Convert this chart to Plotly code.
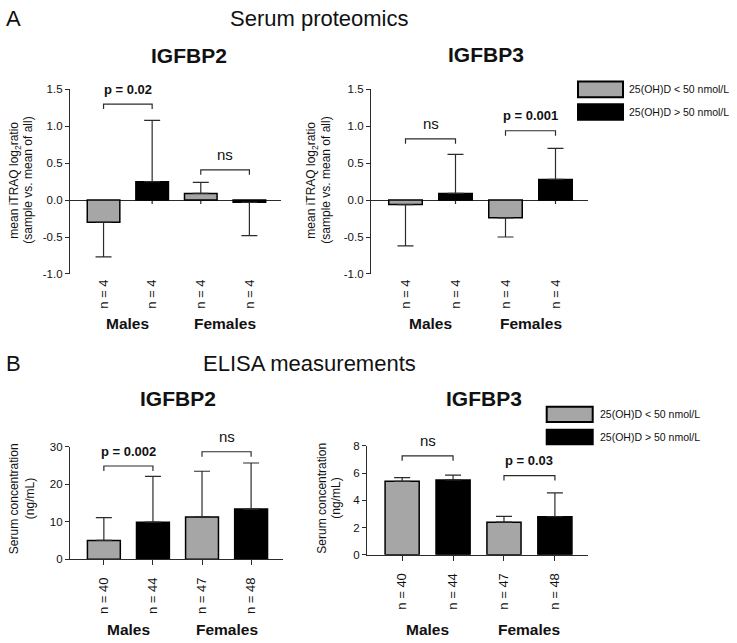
import plotly.graph_objects as go

W, H = 737, 643
FONT = "Liberation Sans, Arial, sans-serif"

# ---------------- data ----------------
groups = ["Males", "Females"]
legend_labels = ["25(OH)D < 50 nmol/L", "25(OH)D > 50 nmol/L"]
n_prot = ["n = 4", "n = 4", "n = 4", "n = 4"]
n_elisa = ["n = 40", "n = 44", "n = 47", "n = 48"]

prot_igfbp2_mean = [-0.30, 0.25, 0.09, -0.03]
prot_igfbp2_err = [0.47, 0.83, 0.15, 0.45]
prot_igfbp3_mean = [-0.06, 0.09, -0.24, 0.28]
prot_igfbp3_err = [0.56, 0.53, 0.26, 0.42]
elisa_igfbp2_mean = [5.0, 9.9, 11.3, 13.4]
elisa_igfbp2_err = [6.1, 12.2, 12.2, 12.3]
elisa_igfbp3_mean = [5.4, 5.5, 2.4, 2.8]
elisa_igfbp3_err = [0.27, 0.35, 0.43, 1.75]

# significance: (left bar, right bar, bracket level, label)
sig_prot_igfbp2 = [(0, 1, 1.30, "p = 0.02"), (2, 3, 0.41, "ns")]
sig_prot_igfbp3 = [(0, 1, 0.83, "ns"), (2, 3, 0.94, "p = 0.001")]
sig_elisa_igfbp2 = [(0, 1, 24.9, "p = 0.002"), (2, 3, 28.7, "ns")]
sig_elisa_igfbp3 = [(0, 1, 7.27, "ns"), (2, 3, 5.82, "p = 0.03")]

GRAY = "#a6a6a6"
BLACK = "#000000"
LINE = "#2b2b2b"


def px_x(x):
    return x / W


def px_y(y):
    return 1 - y / H


panels = [
    dict(k="", title="IGFBP2", tpos=(189, 50), xd=(70, 281), yd=(85, 273), yr=(-1.0, 1.5),
         ticks=[-1.0, -0.5, 0.0, 0.5, 1.0, 1.5], fmt="{:.1f}", mean=prot_igfbp2_mean,
         err=prot_igfbp2_err, ncat=n_prot, sig=sig_prot_igfbp2, top=True,
         ytitle=["mean iTRAQ log<sub>2</sub>ratio", "(sample vs. mean of all)"],
         ytx=(15, 28), yty=178, grp_y=324),
    dict(k="2", title="IGFBP3", tpos=(486, 49), xd=(371, 588), yd=(85, 273), yr=(-1.0, 1.5),
         ticks=[-1.0, -0.5, 0.0, 0.5, 1.0, 1.5], fmt="{:.1f}", mean=prot_igfbp3_mean,
         err=prot_igfbp3_err, ncat=n_prot, sig=sig_prot_igfbp3, top=True,
         ytitle=["mean iTRAQ log<sub>2</sub>ratio", "(sample vs. mean of all)"],
         ytx=(312, 326), yty=178, grp_y=324,
         legend=((578, 77, 623, 93), (578, 100, 623, 116), 627)),
    dict(k="3", title="IGFBP2", tpos=(177.5, 400), xd=(70, 283), yd=(449.3, 563.7), yr=(0, 30),
         ticks=[0, 10, 20, 30], fmt="{:d}", mean=elisa_igfbp2_mean, err=elisa_igfbp2_err,
         ncat=n_elisa, sig=sig_elisa_igfbp2, top=False,
         ytitle=["Serum concentration", "(ng/mL)"], ytx=(13.5, 29.5), yty=502, grp_y=635),
    dict(k="4", title="IGFBP3", tpos=(484, 400), xd=(367, 588), yd=(448.3, 559.3), yr=(0, 8),
         ticks=[0, 2, 4, 6, 8], fmt="{:d}", mean=elisa_igfbp3_mean, err=elisa_igfbp3_err,
         ncat=n_elisa, sig=sig_elisa_igfbp3, top=False,
         ytitle=["Serum concentration", "(ng/mL)"], ytx=(322, 336), yty=502, grp_y=635,
         legend=((546.7, 408.3, 592.7, 424), (546.7, 431.7, 592.7, 446.7), 597.7)),
]

fig = go.Figure()
shapes = []
annotations = []
XR = (-0.69, 3.65)
xpos = [0, 1, 2, 3]

for p in panels:
    k = p["k"]
    xa, ya = "x" + k, "y" + k
    xlay, ylay = "xaxis" + k, "yaxis" + k
    mean, err = p["mean"], p["err"]
    for s, color in enumerate([GRAY, BLACK]):
        idx = [i for i in xpos if i % 2 == s]
        vals = [mean[i] for i in idx]
        up = [err[i] if mean[i] >= 0 else 0 for i in idx]
        dn = [err[i] if mean[i] < 0 else 0 for i in idx]
        fig.add_trace(go.Bar(
            x=idx, y=vals, width=0.67, xaxis=xa, yaxis=ya, name=legend_labels[s],
            showlegend=False,
            marker=dict(color=color, line=dict(color=BLACK, width=1.5)),
            error_y=dict(type="data", symmetric=False, array=up, arrayminus=dn,
                         color=LINE, thickness=1.2, width=8),
        ))

    ymin, ymax = p["yr"]
    top_px, bot_px = p["yd"]
    per_px = (ymax - ymin) / (bot_px - top_px)

    fig.update_layout({
        xlay: dict(domain=[px_x(p["xd"][0]), px_x(p["xd"][1])], range=list(XR),
                   anchor=ya, tickmode="array", tickvals=xpos, ticktext=p["ncat"],
                   tickangle=-90, showgrid=False, zeroline=False,
                   showline=not p["top"], linecolor=LINE, linewidth=1.2,
                   ticks="" if p["top"] else "outside", ticklen=5, tickcolor=LINE,
                   tickwidth=1.2, ticklabelstandoff=2 if p["top"] else 7,
                   tickfont=dict(family=FONT, size=13, color="#111")),
        ylay: dict(domain=[px_y(bot_px), px_y(top_px)], range=[ymin, ymax], anchor=xa,
                   tickmode="array", tickvals=p["ticks"],
                   ticktext=[p["fmt"].format(v) for v in p["ticks"]],
                   showgrid=False, showline=True, linecolor=LINE, linewidth=1.2,
                   ticks="outside", ticklen=4, tickcolor=LINE, tickwidth=1.2,
                   zeroline=p["top"], zerolinecolor=LINE, zerolinewidth=1.2,
                   tickfont=dict(family=FONT, size=11.5, color="#111")),
    })

    # small category ticks on the zero line for the proteomics panels
    if p["top"]:
        for i in xpos:
            shapes.append(dict(type="line", xref=xa, yref=ya, x0=i, x1=i, ysizemode="pixel",
                               yanchor=0, y0=0, y1=-4, line=dict(color=LINE, width=1.2),
                               layer="below"))

    # significance brackets
    leg = 5 * per_px
    for a, b, lev, lab in p["sig"]:
        shapes.append(dict(type="path", xref=xa, yref=ya,
                           path=f"M {a},{lev - leg} L {a},{lev} L {b},{lev} L {b},{lev - leg}",
                           line=dict(color=LINE, width=1.2)))
        bold = lab.startswith("p")
        annotations.append(dict(x=(a + b) / 2, y=lev, xref=xa, yref=ya, yshift=15,
                                text=f"<b>{lab}</b>" if bold else lab, showarrow=False,
                                yanchor="middle",
                                font=dict(family=FONT, size=13 if bold else 15, color="#111")))

    # panel title
    annotations.append(dict(x=px_x(p["tpos"][0]), y=px_y(p["tpos"][1]), xref="paper",
                            yref="paper", text=f"<b>{p['title']}</b>", showarrow=False,
                            xanchor="center", yanchor="middle",
                            font=dict(family=FONT, size=21, color="#111")))
    # y-axis title lines
    for line_txt, xx in zip(p["ytitle"], p["ytx"]):
        annotations.append(dict(x=px_x(xx), y=px_y(p["yty"]), xref="paper", yref="paper",
                                text=line_txt, textangle=-90, showarrow=False,
                                xanchor="center", yanchor="middle",
                                font=dict(family=FONT, size=12, color="#111")))
    # group labels
    for g, gx in zip(groups, [0.5, 2.5]):
        annotations.append(dict(x=gx, y=px_y(p["grp_y"]), xref=xa, yref="paper",
                                text=f"<b>{g}</b>", showarrow=False, xanchor="center",
                                yanchor="middle",
                                font=dict(family=FONT, size=15.5, color="#111")))
    # legend
    if "legend" in p:
        b1, b2, tx = p["legend"]
        for (x0, y0, x1, y1), col, lab in zip([b1, b2], [GRAY, BLACK], legend_labels):
            shapes.append(dict(type="rect", xref="paper", yref="paper",
                               x0=px_x(x0), x1=px_x(x1), y0=px_y(y1), y1=px_y(y0),
                               fillcolor=col, line=dict(color=BLACK, width=2)))
            annotations.append(dict(x=px_x(tx), y=px_y((y0 + y1) / 2), xref="paper",
                                    yref="paper", text=lab, showarrow=False,
                                    xanchor="left", yanchor="middle",
                                    font=dict(family=FONT, size=10.5, color="#111")))

# section headings
for lab, (x, y) in [("A", (4, 13)), ("B", (4, 364))]:
    annotations.append(dict(x=px_x(x), y=px_y(y), xref="paper", yref="paper", text=lab,
                            showarrow=False, xanchor="left", yanchor="middle",
                            font=dict(family=FONT, size=22, color="#111")))
for lab, (x, y) in [("Serum proteomics", (319, 13)), ("ELISA measurements", (309, 364))]:
    annotations.append(dict(x=px_x(x), y=px_y(y), xref="paper", yref="paper", text=lab,
                            showarrow=False, xanchor="center", yanchor="middle",
                            font=dict(family=FONT, size=22, color="#111")))

fig.update_layout(
    width=W, height=H, autosize=False,
    margin=dict(l=0, r=0, t=0, b=0),
    paper_bgcolor="white", plot_bgcolor="white",
    barmode="overlay", showlegend=False,
    shapes=shapes, annotations=annotations,
    font=dict(family=FONT, color="#111"),
)

fig.write_html("out.html", config={"displayModeBar": False},
               post_script="document.body.style.margin='0';")
